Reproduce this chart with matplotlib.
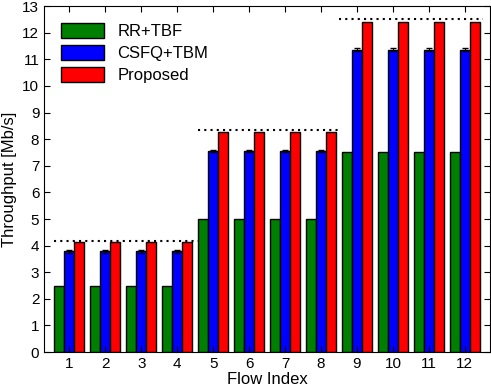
import numpy as np
from matplotlib import pyplot as plt

flows = np.arange(1, 13)
rr_tbf = [2.5] * 4 + [5.0] * 4 + [7.5] * 4
csfq_tbm = [3.78] * 4 + [7.57] * 4 + [11.36] * 4
csfq_err = [0.04] * 4 + [0.04] * 4 + [0.05] * 4
proposed = [4.13] * 4 + [8.27] * 4 + [12.42] * 4
fair_share = [12.5 / 3, 25 / 3, 12.5]
fair_span = [(0.57, 4.57), (4.57, 8.5), (8.5, 12.5)]

plt.rcParams.update({'font.family': ['Liberation Sans', 'DejaVu Sans'], 'font.size': 11})
fig = plt.figure(figsize=(4.91, 3.86), dpi=100)
ax = fig.add_axes([0.09, 0.088, 0.908, 0.896])

w = 0.28
ax.bar(flows - w, rr_tbf, w, color='green', edgecolor='black', linewidth=1.0, label='RR+TBF')
ax.bar(flows, csfq_tbm, w, color='blue', edgecolor='black', linewidth=1.0, label='CSFQ+TBM',
       yerr=csfq_err, ecolor='black', capsize=2, error_kw={'elinewidth': 0.8})
ax.bar(flows + w, proposed, w, color='red', edgecolor='black', linewidth=1.0, label='Proposed')

for level, (x0, x1) in zip(fair_share, fair_span):
    ax.plot([x0, x1], [level, level], color='black', linestyle=(0, (1, 2)), linewidth=1.5)

ax.set_xlim(0.3, 12.7)
ax.set_ylim(0, 13)
ax.set_xticks(flows)
ax.set_yticks(range(0, 14))
ax.tick_params(direction='in', top=True, right=True, length=4, labelsize=11)
ax.set_xlabel('Flow Index', labelpad=1, fontsize=12)
ax.set_ylabel('Throughput [Mb/s]', labelpad=4, fontsize=12)
ax.legend(loc='upper left', frameon=False, handlelength=2.6, handleheight=1.0,
          borderaxespad=0.6, labelspacing=0.35, fontsize=12)

fig.savefig('out.png', dpi=100)
